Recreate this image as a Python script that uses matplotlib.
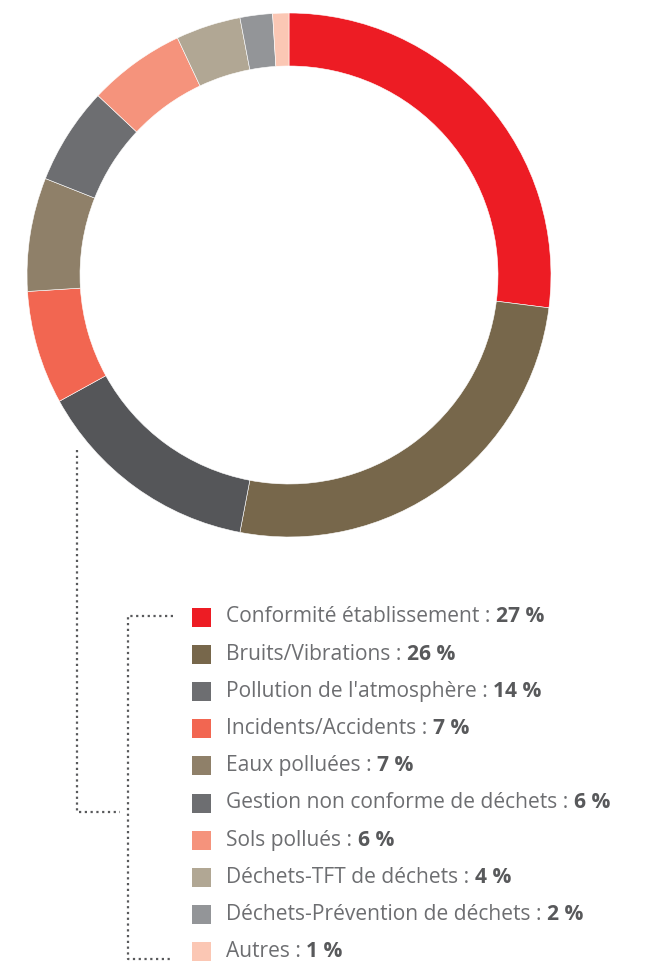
import matplotlib
matplotlib.use("Agg")
import matplotlib.pyplot as plt
from matplotlib.patches import Rectangle

categories = ["Conformité établissement", "Bruits/Vibrations", "Pollution de l'atmosphère",
              "Incidents/Accidents", "Eaux polluées", "Gestion non conforme de déchets",
              "Sols pollués", "Déchets-TFT de déchets", "Déchets-Prévention de déchets", "Autres"]
values = [27, 26, 14, 7, 7, 6, 6, 4, 2, 1]
colors = ["#ed1c24", "#77674b", "#555659", "#f26651", "#8f8069", "#6d6e71",
          "#f5937c", "#b1a794", "#939598", "#fbc7b4"]
legend_colors = ["#ed1c24", "#77674b", "#6d6e71", "#f26651", "#8f8069", "#6d6e71",
                 "#f5937c", "#b1a794", "#939598", "#fbc7b4"]

W, H = 646, 964
fig = plt.figure(figsize=(W / 100, H / 100), dpi=100)

cx, cy, R = 289, 275, 262
ax = fig.add_axes([(cx - R) / W, (H - cy - R) / H, 2 * R / W, 2 * R / H])
ax.pie(values, colors=colors, startangle=90, counterclock=False, radius=1,
       wedgeprops=dict(width=53 / R, edgecolor="white", linewidth=0.4))
ax.set_xlim(-1, 1)
ax.set_ylim(-1, 1)
ax.set_aspect("equal")
ax.axis("off")

# overlay axes in pixel coordinates for legend
lax = fig.add_axes([0, 0, 1, 1])
lax.set_xlim(0, W)
lax.set_ylim(H, 0)
lax.axis("off")

row0, dy = 617, 37.2
fam = ["Open Sans", "DejaVu Sans"]
for i, (cat, v, c) in enumerate(zip(categories, values, legend_colors)):
    y = row0 + i * dy
    lax.add_patch(Rectangle((192, y - 9.5), 19, 19, facecolor=c, edgecolor="none"))
    t = lax.text(226, y, f"{cat} : ", fontsize=15.1, color="#6d6e71", va="center",
                 ha="left", family=fam)
    lax.annotate(f"{v} %", xycoords=t, xy=(1, 0), va="bottom", ha="left",
                 fontsize=15.1, color="#58595b", fontweight="bold", family=fam)

dot = dict(color="#58595b", linestyle=(0, (1, 1.6)), linewidth=1.6)
lax.plot([77, 77, 120], [450, 812, 812], **dot)
lax.plot([173, 128, 128, 173], [616, 616, 959, 959], **dot)

fig.savefig("out.png", dpi=100)
